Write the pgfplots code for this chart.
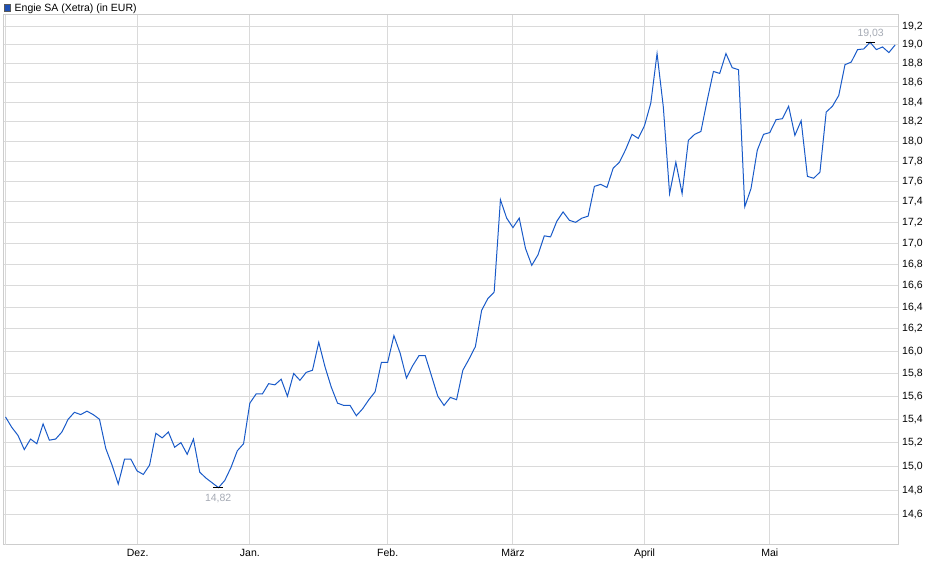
\documentclass[border=0pt]{standalone}
\usepackage{fontspec}
\setmainfont{Liberation Sans}
\usepackage{pgfplots}
\pgfplotsset{compat=1.18}
\usepackage{pgfplotstable}

\definecolor{lineblue}{RGB}{25,90,200}
\definecolor{legblue}{RGB}{30,80,180}
\definecolor{gridgray}{RGB}{218,218,218}
\definecolor{framegray}{RGB}{205,205,205}
\definecolor{annot}{RGB}{165,170,180}

% Engie SA, Xetra, daily close (trading day index)
\pgfplotstableread{
idx price
0 15.42
1 15.33
2 15.26
3 15.14
4 15.23
5 15.19
6 15.36
7 15.22
8 15.23
9 15.29
10 15.40
11 15.46
12 15.44
13 15.47
14 15.44
15 15.40
16 15.15
17 15.01
18 14.85
19 15.06
20 15.06
21 14.96
22 14.93
23 15.01
24 15.28
25 15.24
26 15.29
27 15.16
28 15.20
29 15.10
30 15.23
31 14.95
32 14.90
33 14.86
34 14.82
35 14.88
36 14.99
37 15.13
38 15.19
39 15.54
40 15.62
41 15.62
42 15.71
43 15.70
44 15.75
45 15.60
46 15.80
47 15.74
48 15.81
49 15.83
50 16.08
51 15.86
52 15.68
53 15.54
54 15.52
55 15.52
56 15.43
57 15.49
58 15.57
59 15.64
60 15.90
61 15.90
62 16.14
63 15.98
64 15.76
65 15.87
66 15.96
67 15.96
68 15.78
69 15.60
70 15.52
71 15.59
72 15.57
73 15.83
74 15.93
75 16.04
76 16.37
77 16.48
78 16.54
79 17.42
80 17.24
81 17.15
82 17.24
83 16.95
84 16.79
85 16.89
86 17.07
87 17.06
88 17.21
89 17.30
90 17.22
91 17.20
92 17.24
93 17.26
94 17.55
95 17.57
96 17.54
97 17.73
98 17.79
99 17.92
100 18.07
101 18.03
102 18.16
103 18.39
104 18.91
105 18.35
106 17.48
107 17.79
108 17.48
109 18.01
110 18.07
111 18.10
112 18.42
113 18.72
114 18.70
115 18.91
116 18.76
117 18.74
118 17.35
119 17.53
120 17.91
121 18.07
122 18.09
123 18.22
124 18.23
125 18.36
126 18.06
127 18.21
128 17.65
129 17.63
130 17.69
131 18.30
132 18.36
133 18.47
134 18.79
135 18.82
136 18.95
137 18.96
138 19.03
139 18.95
140 18.98
141 18.92
142 19.00
}\engie

\begin{document}
\begin{tikzpicture}[x=1pt,y=1pt]
\path[use as bounding box] (0,0) rectangle (940,-579);
\begin{axis}[
  at={(4pt,-545pt)}, anchor=south west,
  scale only axis, width=894pt, height=530pt,
  xmin=-0.24, xmax=142.46,
  ymode=log, ymin=14.351, ymax=19.323,
  axis line style={framegray, line width=1pt},
  grid=major, major grid style={gridgray, line width=1pt},
  tick style={draw=none},
  xtick={21.1,39,61,81,102,122},
  xticklabels={Dez.,Jan.,Feb.,März,April,Mai},
  extra x ticks={0}, extra x tick labels={},
  ytick={14.6,14.8,15.0,15.2,15.4,15.6,15.8,16.0,16.2,16.4,16.6,16.8,17.0,17.2,17.4,17.6,17.8,18.0,18.2,18.4,18.6,18.8,19.0,19.2},
  yticklabels={{14,6},{14,8},{15,0},{15,2},{15,4},{15,6},{15,8},{16,0},{16,2},{16,4},{16,6},{16,8},{17,0},{17,2},{17,4},{17,6},{17,8},{18,0},{18,2},{18,4},{18,6},{18,8},{19,0},{19,2}},
  yticklabel pos=right,
  tick label style={font=\fontsize{10.5}{12}\selectfont, text=black},
  yticklabel style={anchor=west, inner sep=0pt, xshift=4pt},
  xticklabel style={anchor=north, inner sep=0pt, yshift=-4pt},
  legend style={at={(0,1)}, anchor=north west, xshift=-0.5pt, yshift=11.5pt,
    draw=none, fill=none, inner sep=0pt, outer sep=0pt, column sep=4pt,
    nodes={inner sep=0pt}, font=\fontsize{10.5}{12}\selectfont},
  legend cell align=left,
]
\addplot[lineblue, line width=1pt,
  legend image code/.code={\fill[legblue, draw=black!65, line width=0.6pt] (0pt,-3.3pt) rectangle (6.6pt,3.3pt);}]
  table[x=idx, y=price] {\engie};
\addlegendentry{Engie SA (Xetra) (in EUR)}
\addplot[black, line width=1pt, forget plot] coordinates {(33.2,14.82) (34.7,14.82)};
\addplot[black, line width=1pt, forget plot] coordinates {(137.4,19.03) (138.8,19.03)};
\node[text=annot, anchor=north, inner sep=0pt, yshift=-6pt, font=\fontsize{10.5}{12}\selectfont] at (axis cs:33.95,14.82) {14,82};
\node[text=annot, anchor=base, inner sep=0pt, yshift=5.5pt, font=\fontsize{10.5}{12}\selectfont] at (axis cs:138.1,19.03) {19,03};
\end{axis}
\end{tikzpicture}
\end{document}
